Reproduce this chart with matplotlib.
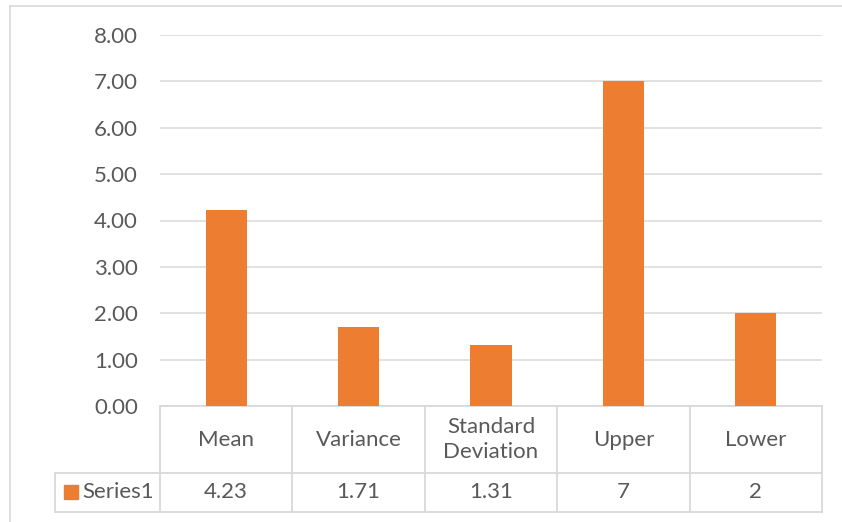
import matplotlib
matplotlib.use("Agg")
import matplotlib.pyplot as plt
from matplotlib.lines import Line2D
from matplotlib.patches import Rectangle

# summary statistics
categories = ["Mean", "Variance", "Standard\nDeviation", "Upper", "Lower"]
values = [4.23, 1.71, 1.31, 7, 2]
value_labels = ["4.23", "1.71", "1.31", "7", "2"]
series_name = "Series1"
yticks = [0, 1, 2, 3, 4, 5, 6, 7, 8]

orange = "#ED7D31"
grid_col = "#D9D9D9"
txt_col = "#595959"
plt.rcParams["font.family"] = ["Lato", "DejaVu Sans"]
fs = 16

W, H = 842, 522
fig = plt.figure(figsize=(W / 100, H / 100), dpi=100)

# chart border
fig.add_artist(Line2D([9.5 / W, 9.5 / W], [0, 1 - 6 / H], color=grid_col, lw=1.2))
fig.add_artist(Line2D([9.5 / W, 1], [1 - 6 / H, 1 - 6 / H], color=grid_col, lw=1.2))

left, right, top, bottom = 160, 822, 35, 406
ax = fig.add_axes([left / W, 1 - bottom / H, (right - left) / W, (bottom - top) / H])
x = list(range(len(categories)))
ax.bar(x, values, width=0.31, color=orange, zorder=3)
ax.set_xlim(-0.5, len(categories) - 0.5)
ax.set_ylim(0, 8)
ax.set_yticks(yticks)
ax.set_yticklabels([f"{v:.2f}" for v in yticks], fontsize=fs, color=txt_col)
ax.tick_params(axis="y", length=0, pad=16)
ax.set_xticks([])
ax.grid(axis="y", color=grid_col, lw=1.1, zorder=0)
for s in ax.spines.values():
    s.set_visible(False)

# data table underneath
tr = ax.get_xaxis_transform()
axh = bottom - top
row1 = -(473 - bottom) / axh
row2 = -(511.5 - bottom) / axh
x0 = -0.5 - (left - 55) / ((right - left) / len(categories))
xe = len(categories) - 0.5
kw = dict(color=grid_col, lw=1.3, transform=tr, clip_on=False)
ax.plot([-0.5, xe], [0, 0], **kw)
ax.plot([x0, xe], [row1, row1], **kw)
ax.plot([x0, xe], [row2, row2], **kw)
ax.plot([x0, x0], [row1, row2], **kw)
for b in range(len(categories) + 1):
    ax.plot([b - 0.5, b - 0.5], [0, row2], **kw)
for i, (c, v) in enumerate(zip(categories, value_labels)):
    ax.text(i, row1 / 2, c, transform=tr, ha="center", va="center",
            fontsize=fs, color=txt_col, linespacing=1.3)
    ax.text(i, (row1 + row2) / 2, v, transform=tr, ha="center", va="center",
            fontsize=fs, color=txt_col)

# legend key in the table
cell_w = (right - left) / len(categories)
kx = -0.5 - (left - 64) / cell_w
kw_ = 14 / cell_w
ky = (row1 + row2) / 2
ax.add_patch(Rectangle((kx, ky - 7 / axh), kw_, 14 / axh, transform=tr,
                       color=orange, clip_on=False))
ax.text(-0.5 - (left - 82) / cell_w, ky, series_name, transform=tr,
        ha="left", va="center", fontsize=fs, color=txt_col)

fig.savefig("out.png", dpi=100)
